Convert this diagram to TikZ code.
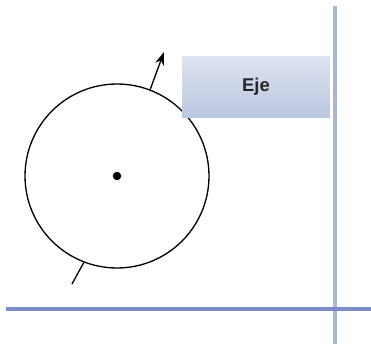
\documentclass[tikz,border=0pt]{standalone}
\usepackage{fontspec}
\setmainfont{Liberation Sans}
\usepackage{tikz}
\usetikzlibrary{arrows.meta,shapes,positioning,calc}

\definecolor{ejetop}{HTML}{DDE3F0}
\definecolor{ejebot}{HTML}{BAC5DF}
\definecolor{planoA}{HTML}{A8B6DC}
\definecolor{planoB}{HTML}{7B8FC6}

\begin{document}
\begin{tikzpicture}[
    x=0.02cm, y=-0.02cm,
    rueda/.style={draw, circle, line width=0.75pt, inner sep=0pt, minimum size=3.68cm},
    centro/.style={fill, circle, inner sep=0pt, minimum size=0.17cm},
    caja/.style={rectangle, inner sep=0pt, minimum width=2.96cm, minimum height=1.22cm, top color=ejetop, bottom color=ejebot, font=\fontsize{10.5}{12}\selectfont\bfseries, text=black!85},
    plano/.style={line width=1.8pt},
    arrow/.style={-{Stealth[length=0.26cm, width=0.18cm]}, line width=0.75pt}
]
\useasboundingbox (0,0) rectangle (371,344);

% planos
\coordinate (va) at (335,6);
\coordinate (vb) at (335,344);
\coordinate (ha) at (6,309);
\coordinate (hb) at (371,309);
\draw[plano, planoA] (va) -- (vb);
\draw[plano, planoB] (ha) -- (hb);

% rueda y eje
\node[rueda] (rueda) at (117,176) {};
\node[centro] (c) at (rueda.center) {};
\coordinate (tip) at (164,52);
\coordinate (tail) at (72,284);
\draw[arrow] (rueda.69) -- (tip);
\draw[line width=0.75pt] (tail) -- (rueda.249);

\node[caja] (eje) at (256,87) {Eje};

\end{tikzpicture}
\end{document}
